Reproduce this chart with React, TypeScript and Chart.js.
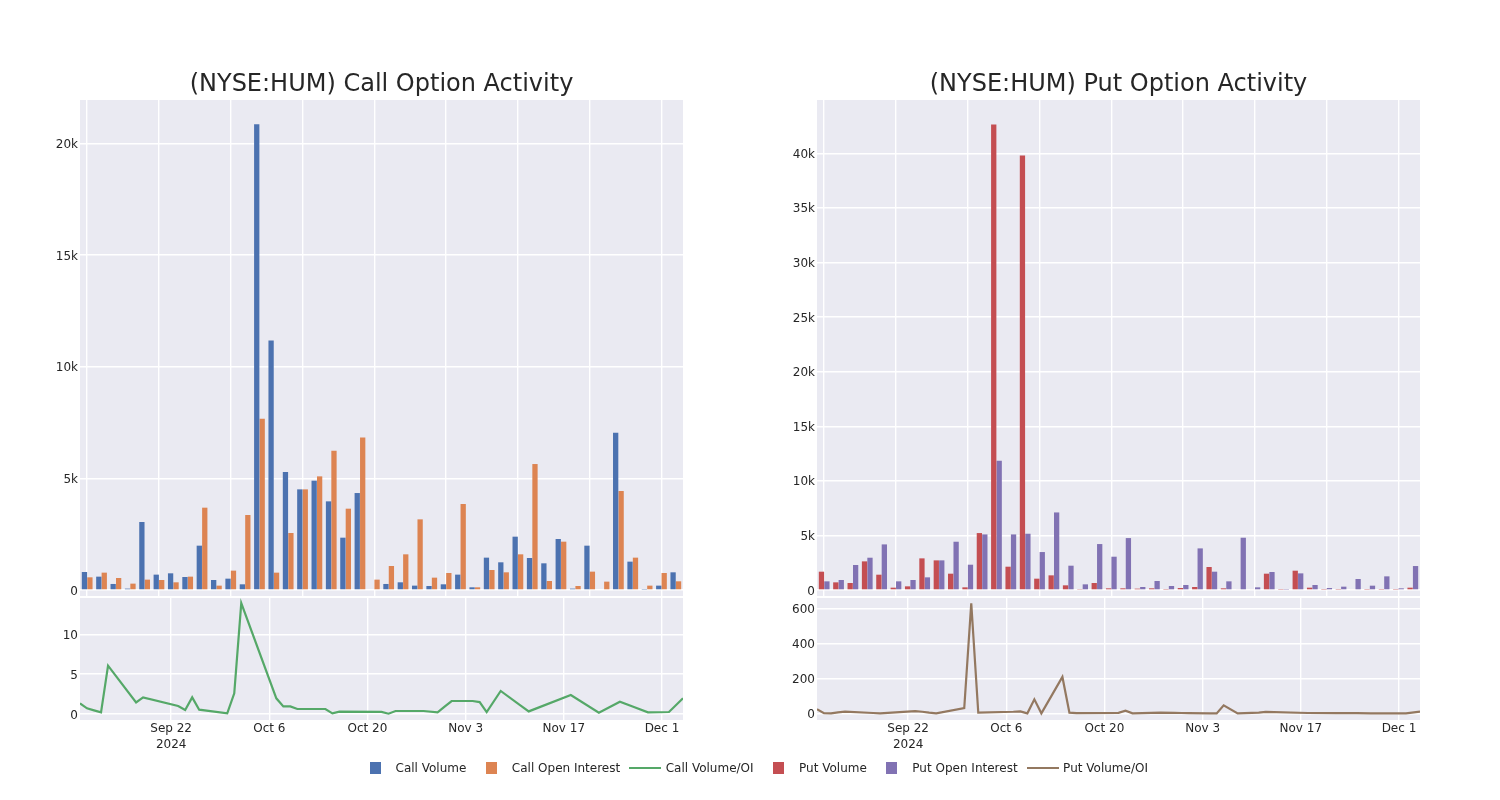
import React, { useEffect, useRef } from 'react';
import { Chart, registerables } from 'chart.js';

Chart.register(...registerables);

// ---------- data ----------
const dates = [
  '2024-09-09', '2024-09-10', '2024-09-11', '2024-09-12', '2024-09-13', '2024-09-17', '2024-09-18',
  '2024-09-23', '2024-09-24', '2024-09-25', '2024-09-26', '2024-09-30', '2024-10-01', '2024-10-02',
  '2024-10-07', '2024-10-08', '2024-10-09', '2024-10-10', '2024-10-11', '2024-10-14', '2024-10-15',
  '2024-10-16', '2024-10-22', '2024-10-23', '2024-10-24', '2024-10-28', '2024-10-30', '2024-10-31',
  '2024-11-01', '2024-11-04', '2024-11-05', '2024-11-06', '2024-11-08', '2024-11-11', '2024-11-12',
  '2024-11-18', '2024-11-22', '2024-11-25', '2024-11-27', '2024-11-29', '2024-12-02', '2024-12-04',
];

const callVolume = [
  806, 597, 269, 60, 3045, 687, 746, 582, 1985, 448, 507, 254, 20866, 11179,
  5284, 4507, 4896, 3970, 2343, 4343, 30, 269, 343, 194, 179, 254, 687, 119,
  1448, 1239, 2388, 1433, 1194, 2284, 60, 1985, 30, 7045, 1269, 15, 194, 791,
];
const callOpenInterest = [
  567, 776, 537, 284, 463, 448, 343, 597, 3687, 194, 866, 3358, 7672, 776,
  2552, 4507, 5090, 6239, 3642, 6836, 463, 1075, 1597, 3164, 552, 761, 3851, 119,
  896, 791, 1597, 5642, 403, 2164, 179, 821, 373, 4433, 1448, 194, 761, 388,
];
const callVolumeOI = [
  1.34, 0.71, 0.46, 0.21, 6.07, 1.46, 2.09, 1.0, 0.5, 2.09, 0.54, 0.08, 2.6, 13.9,
  1.97, 0.96, 0.96, 0.63, 0.63, 0.63, 0.08, 0.29, 0.27, 0.04, 0.38, 0.38, 0.21, 0.92,
  1.63, 1.63, 1.5, 0.25, 2.89, 0.97, 0.33, 2.38, 0.17, 1.55, 0.88, 0.21, 0.25, 1.97,
];

const putVolume = [
  1677, 701, 640, 2622, 1402, 213, 335, 2897, 2714, 1494, 244, 5214, 42625, 2134,
  39790, 1037, 1342, 427, 91, 640, 152, 152, 122, 152, 30, 183, 274, 2104,
  152, 61, 61, 1494, 30, 1768, 213, 30, 30, 61, 30, 30, 30, 213,
];
const putOpenInterest = [
  793, 915, 2287, 2957, 4177, 793, 915, 1159, 2714, 4421, 2317, 5092, 11830, 5092,
  5153, 3476, 7104, 2226, 518, 4208, 3049, 4756, 274, 823, 366, 457, 3811, 1677,
  793, 4787, 244, 1646, 30, 1524, 457, 183, 305, 1006, 396, 1250, 152, 2195,
];
const putVolumeOI = [
  23, 1, 0, 6, 10, 2, 0, 13, 9, 4, 0, 30, 629, 4,
  9, 11, 0, 80, 0, 208, 4, 1, 3, 15, 0, 4, 3, 2,
  1, 0, 0, 46, 0, 4, 8, 2, 1, 1, 0, 0, 0, 10,
];

const dateTicks = ['2024-09-22', '2024-10-06', '2024-10-20', '2024-11-03', '2024-11-17', '2024-12-01'];
const dateTickLabels: (string | string[])[] = [['Sep 22', '2024'], 'Oct 6', 'Oct 20', 'Nov 3', 'Nov 17', 'Dec 1'];

const callBarTicks = [0, 5000, 10000, 15000, 20000];
const putBarTicks = [0, 5000, 10000, 15000, 20000, 25000, 30000, 35000, 40000];
const callRatioTicks = [0, 5, 10];
const putRatioTicks = [0, 200, 400, 600];

// ---------- style ----------
const FONT = 'DejaVu Sans';
const TEXT = '#262626';
const PLOT_BG = '#EAEAF2';
const C_BLUE = '#4C72B0';
const C_ORANGE = '#DD8452';
const C_GREEN = '#55A868';
const C_RED = '#C44E52';
const C_PURPLE = '#8172B3';
const C_BROWN = '#937860';

const toDay = (s: string) => {
  const [y, m, d] = s.split('-').map(Number);
  return Date.UTC(y, m - 1, d) / 86400000;
};

const plotBg = {
  id: 'plotBg',
  beforeDraw(chart: any) {
    const { ctx, chartArea: a } = chart;
    ctx.save();
    ctx.fillStyle = PLOT_BG;
    ctx.fillRect(a.left, a.top, a.right - a.left, a.bottom - a.top);
    ctx.restore();
  },
};

const kFmt = (v: number) => (v === 0 ? '0' : `${v / 1000}k`);

function gridOpts() {
  return { color: '#ffffff', lineWidth: 1.4, drawTicks: false };
}

const noPad = (s: any) => {
  s.paddingTop = 0;
  s.paddingBottom = 0;
  s.paddingLeft = 0;
  s.paddingRight = 0;
};

function barConfig(title: string, labels: string[], a: number[], b: number[], la: string, lb: string,
  ca: string, cb: string, yMin: number, yMax: number, yTicks: number[]): any {
  return {
    type: 'bar',
    data: {
      labels,
      datasets: [
        { label: la, data: a, backgroundColor: ca, borderWidth: 0 },
        { label: lb, data: b, backgroundColor: cb, borderWidth: 0 },
      ],
    },
    options: {
      animation: false,
      responsive: false,
      maintainAspectRatio: false,
      layout: { padding: { left: 0, right: 80, top: 0, bottom: 0 } },
      datasets: { bar: { categoryPercentage: 0.76, barPercentage: 0.97 } },
      plugins: {
        legend: { display: false },
        tooltip: { enabled: false },
        title: {
          display: true,
          fullSize: false,
          text: title,
          color: TEXT,
          font: { family: FONT, size: 24, weight: 'normal', lineHeight: 1.2 },
          padding: { top: 70, bottom: 1.2 },
        },
      },
      scales: {
        x: {
          type: 'category',
          offset: true,
          grid: { ...gridOpts(), offset: false },
          border: { display: false },
          ticks: { display: false, autoSkip: false },
          afterBuildTicks: (s: any) => {
            s.ticks = s.ticks.filter((t: any) => t.value % 5 === 0);
          },
          afterFit: (s: any) => { s.height = 0; noPad(s); },
        },
        y: {
          type: 'linear',
          min: yMin,
          max: yMax,
          grid: gridOpts(),
          border: { display: false },
          afterBuildTicks: (s: any) => { s.ticks = yTicks.map((v) => ({ value: v })); },
          ticks: {
            padding: 2,
            labelOffset: 1.5,
            color: TEXT,
            font: { family: FONT, size: 12 },
            callback: (v: any) => kFmt(Number(v)),
          },
          afterFit: (s: any) => { s.width = 80; noPad(s); },
        },
      },
    },
    plugins: [plotBg],
  };
}

function lineConfig(label: string, values: number[], color: string, yMin: number, yMax: number, yTicks: number[]): any {
  const points = dates.map((d, i) => ({ x: toDay(d), y: values[i] }));
  const tickDays = dateTicks.map(toDay);
  return {
    type: 'line',
    data: {
      datasets: [
        { label, data: points, borderColor: color, backgroundColor: color, borderWidth: 2.2, pointRadius: 0, tension: 0, fill: false },
      ],
    },
    options: {
      animation: false,
      responsive: false,
      maintainAspectRatio: false,
      layout: { padding: { left: 0, right: 80, top: 0, bottom: 0 } },
      plugins: { legend: { display: false }, tooltip: { enabled: false }, title: { display: false } },
      scales: {
        x: {
          type: 'linear',
          min: toDay(dates[0]),
          max: toDay(dates[dates.length - 1]),
          grid: gridOpts(),
          border: { display: false },
          afterBuildTicks: (s: any) => { s.ticks = tickDays.map((v) => ({ value: v })); },
          ticks: {
            autoSkip: false,
            maxRotation: 0,
            padding: 0,
            color: TEXT,
            font: { family: FONT, size: 12, lineHeight: 1.4 },
            callback: (v: any) => {
              const i = tickDays.indexOf(Number(v));
              return i >= 0 ? dateTickLabels[i] : '';
            },
          },
          afterFit: (s: any) => { s.height = 48; noPad(s); },
        },
        y: {
          type: 'linear',
          min: yMin,
          max: yMax,
          grid: gridOpts(),
          border: { display: false },
          afterBuildTicks: (s: any) => { s.ticks = yTicks.map((v) => ({ value: v })); },
          ticks: {
            padding: 2,
            labelOffset: 1.5,
            color: TEXT,
            font: { family: FONT, size: 12 },
            callback: (v: any) => String(v),
          },
          afterFit: (s: any) => { s.width = 80; noPad(s); },
        },
      },
    },
    plugins: [plotBg],
  };
}

function ChartCanvas({ config, left, top, width, height }: { config: () => any; left: number; top: number; width: number; height: number }) {
  const ref = useRef<HTMLCanvasElement | null>(null);
  useEffect(() => {
    if (!ref.current) return;
    const chart = new Chart(ref.current, config());
    return () => chart.destroy();
  }, []);
  return (
    <canvas
      ref={ref}
      width={width}
      height={height}
      style={{ position: 'absolute', left, top, width, height }}
    />
  );
}

const legendItems = [
  { label: 'Call Volume', color: C_BLUE, kind: 'box' },
  { label: 'Call Open Interest', color: C_ORANGE, kind: 'box' },
  { label: 'Call Volume/OI', color: C_GREEN, kind: 'line' },
  { label: 'Put Volume', color: C_RED, kind: 'box' },
  { label: 'Put Open Interest', color: C_PURPLE, kind: 'box' },
  { label: 'Put Volume/OI', color: C_BROWN, kind: 'line' },
];

function Legend() {
  return (
    <div
      style={{
        position: 'absolute', left: 359, top: 760, height: 16, display: 'flex', alignItems: 'center',
        gap: 9, fontFamily: FONT, fontSize: 12, color: TEXT, whiteSpace: 'nowrap',
      }}
    >
      {legendItems.map((it) => (
        <div key={it.label} style={{ display: 'flex', alignItems: 'center', height: 16 }}>
          <div style={{ width: 32, height: 16, display: 'flex', alignItems: 'center', justifyContent: 'center' }}>
            {it.kind === 'box' ? (
              <div style={{ width: 11, height: 12, background: it.color }} />
            ) : (
              <div style={{ width: 32, height: 2, background: it.color }} />
            )}
          </div>
          <span style={{ marginLeft: 4.5, lineHeight: '16px' }}>{it.label}</span>
        </div>
      ))}
    </div>
  );
}

export default function App() {
  return (
    <div style={{ position: 'fixed', left: 0, top: 0, width: 1500, height: 800, background: '#ffffff', overflow: 'hidden' }}>
      <ChartCanvas
        left={0} top={0} width={763} height={596}
        config={() => barConfig('(NYSE:HUM) Call Option Activity', dates, callVolume, callOpenInterest,
          'Call Volume', 'Call Open Interest', C_BLUE, C_ORANGE, -270, 21950, callBarTicks)}
      />
      <ChartCanvas
        left={0} top={598} width={763} height={170}
        config={() => lineConfig('Call Volume/OI', callVolumeOI, C_GREEN, -0.75, 14.55, callRatioTicks)}
      />
      <ChartCanvas
        left={737} top={0} width={763} height={596}
        config={() => barConfig('(NYSE:HUM) Put Option Activity', dates, putVolume, putOpenInterest,
          'Put Volume', 'Put Open Interest', C_RED, C_PURPLE, -550, 44880, putBarTicks)}
      />
      <ChartCanvas
        left={737} top={598} width={763} height={170}
        config={() => lineConfig('Put Volume/OI', putVolumeOI, C_BROWN, -38, 659, putRatioTicks)}
      />
      <Legend />
    </div>
  );
}
